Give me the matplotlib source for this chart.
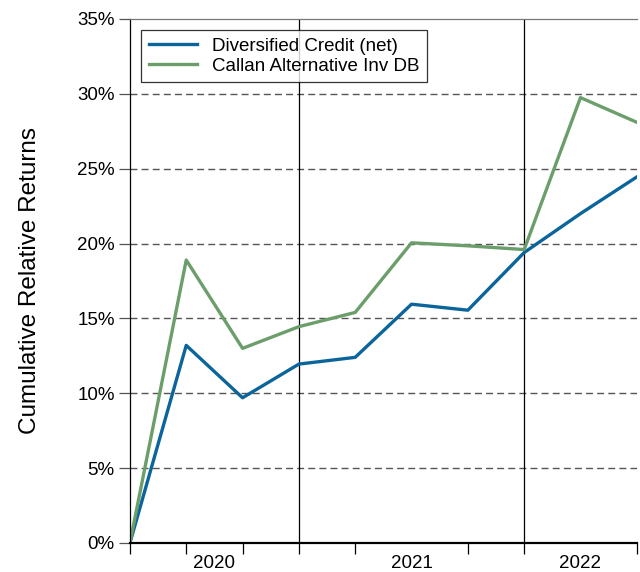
import matplotlib.pyplot as plt
from matplotlib.ticker import FuncFormatter

plt.rcParams['font.family'] = ['Liberation Sans', 'DejaVu Sans']

# quarterly cumulative returns (%), starting point = 0
credit = [0, 13.2, 9.7, 11.95, 12.4, 15.95, 15.55, 19.4, 22.0, 24.45]
callan = [0, 18.9, 13.0, 14.45, 15.4, 20.05, 19.85, 19.6, 29.75, 28.1]
years = ['2020', '2021', '2022']
year_breaks = [3, 7]
year_centers = [1.5, 5, 8]

fig = plt.figure(figsize=(6.4, 5.72), dpi=100)
ax = fig.add_axes([0.203, 0.0507, 0.792, 0.9161])

qx = list(range(len(credit)))
ax.plot(qx, credit, color='#0b659a', lw=2.4, label='Diversified Credit (net)')
ax.plot(qx, callan, color='#6c9e6c', lw=2.4, label='Callan Alternative Inv DB')

for b in year_breaks:
    ax.axvline(b, color='black', lw=0.9, zorder=1)
for y in range(5, 35, 5):
    ax.axhline(y, color='#555555', lw=1.0, ls=(0, (5, 3)), zorder=0)

ax.set_xlim(0, len(credit) - 1)
ax.set_ylim(0, 35)
ax.set_yticks(range(0, 40, 5))
ax.yaxis.set_major_formatter(FuncFormatter(lambda v, p: f'{v:.0f}%'))
ax.tick_params(axis='y', length=8, width=0.9, color='#555555', labelsize=13.5, pad=3)

ax.set_xticks(qx, minor=True)
ax.set_xticks(year_centers)
ax.set_xticklabels(years)
ax.tick_params(axis='x', which='major', length=0, labelsize=13.5, pad=8.5)
ax.tick_params(axis='x', which='minor', length=8, width=0.9, color='black')

ax.set_ylabel('Cumulative Relative Returns', fontsize=17.5, labelpad=26)

ax.spines['top'].set_color('#777777')
ax.spines['top'].set_linewidth(0.9)
ax.spines['right'].set_visible(False)
ax.spines['left'].set_linewidth(0.9)
ax.spines['bottom'].set_linewidth(1.6)

leg = ax.legend(loc='upper left', fontsize=13.5, frameon=True, fancybox=False,
                edgecolor='black', borderaxespad=0.6, handlelength=2.6,
                labelspacing=0.15, borderpad=0.4)
leg.get_frame().set_linewidth(0.9)

fig.savefig('out.png', dpi=100)
